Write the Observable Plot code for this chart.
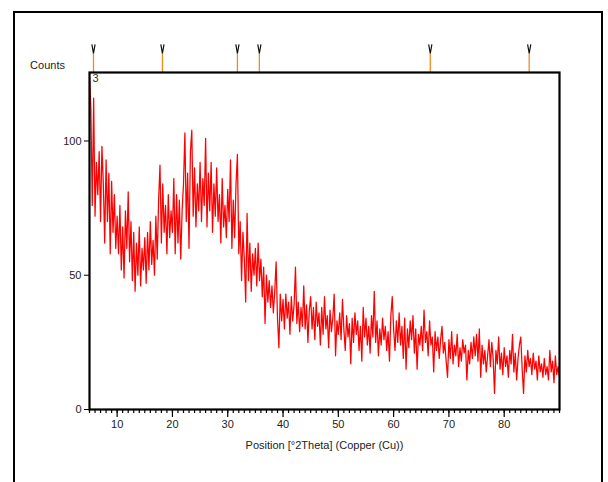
<!DOCTYPE html>
<html>
<head>
<meta charset="utf-8">
<script src="https://cdn.jsdelivr.net/npm/d3@7"></script>
<script src="https://cdn.jsdelivr.net/npm/@observablehq/plot@0.6"></script>
<style>
  html, body { margin: 0; padding: 0; background: #fff; }
  body { width: 608px; height: 482px; position: relative; overflow: hidden; font-family: "Liberation Sans", Arial, sans-serif; }
  #frame { position: absolute; left: 13px; top: 11px; width: 590px; height: 500px; border: 2px solid #000; box-sizing: border-box; }
  #chart { position: absolute; left: 0; top: 0; }
</style>
</head>
<body>
<div id="frame"></div>
<div id="chart"></div>
<script>
// 2Theta start and step of the scan (degrees)
const startAngle = 5;
const stepAngle = 0.25;
// Counts, one row per 5 degrees
const counts = [
  125,112,76,116,72,92,80,96,70,98,84,62,93,70,88,58,85,66,80,60,
  72,58,76,52,68,49,74,60,81,55,70,48,66,44,62,50,68,46,60,52,
  64,47,66,52,70,54,63,50,72,56,78,91,62,84,66,76,58,80,64,74,
  66,86,58,80,62,78,56,74,84,103,70,88,60,96,104,72,90,68,84,74,
  92,70,86,76,101,68,88,74,92,66,84,72,90,70,80,62,86,68,76,64,
  82,70,93,60,78,64,84,95,58,70,48,66,56,40,73,48,62,44,58,50,
  60,46,62,48,56,42,53,32,50,40,48,38,46,36,44,55,34,23,43,33,
  41,30,43,34,40,28,42,33,39,53,32,40,29,38,31,46,30,39,25,37,
  42,30,38,26,40,31,36,24,38,28,42,30,35,23,37,29,34,43,20,33,
  28,36,26,41,30,22,35,27,32,17,34,25,36,28,33,22,31,18,38,27,
  34,24,31,21,35,27,44,25,33,20,30,24,34,26,31,22,29,18,35,42,
  30,22,33,25,36,24,31,19,34,15,30,23,33,26,35,21,30,15,28,24,
  31,22,37,25,29,20,33,24,27,14,29,22,27,19,26,31,21,25,18,12,
  26,19,29,17,24,20,28,16,23,18,26,21,24,11,22,17,25,19,27,20,
  28,18,30,12,24,17,22,14,20,26,16,25,19,6,22,17,27,15,21,13,
  23,16,20,12,22,17,28,14,21,11,19,24,27,15,6,20,14,22,16,19,
  13,21,15,18,11,20,14,17,12,19,13,16,11,22,14,18,10,20,13,16,
  12
];
// Reference pattern line positions (degrees 2Theta)
const refPeaks = [5.72, 18.19, 31.75, 35.72, 66.63, 84.52];
const majorTicks = [10, 20, 30, 40, 50, 60, 70, 80];
const yTicks = [0, 50, 100];
const patternLabel = "3";

const data = counts.map((c, i) => ({angle: startAngle + i * stepAngle, count: c}));
const yTop = 125.5;
const markerTop = 132.5;   // orange stems end here (above frame)
const markerGlyph = 134.3;

// narrow "V" glyph used for the reference-line markers
const narrowV = {
  draw(context, size) {
    const h = 4.5, w = 1.6;
    context.moveTo(-w, -h);
    context.lineTo(0, h);
    context.lineTo(w, -h);
  }
};

const chart = Plot.plot({
  width: 608,
  height: 482,
  marginLeft: 89,
  marginRight: 49,
  marginTop: 72,
  marginBottom: 73,
  style: {fontFamily: "'Liberation Sans', Arial, sans-serif", fontSize: "11px", color: "#222", background: "transparent", overflow: "visible"},
  x: {domain: [5, 90]},
  y: {domain: [0, yTop]},
  marks: [
    Plot.line(data, {x: "angle", y: "count", stroke: "#ff0000", strokeWidth: 1.25, clip: true}),
    Plot.ruleX(refPeaks, {x: d => d, y1: yTop, y2: markerTop, stroke: "#f28a1e", strokeWidth: 1.3}),
    Plot.dot(refPeaks, {x: d => d, y: markerGlyph, symbol: narrowV, r: 4, stroke: "#111", fill: "none", strokeWidth: 1.2}),
    Plot.axisX({ticks: d3.range(5, 91, 1), tickSize: 4, text: null, label: null, stroke: "#000", strokeWidth: 1.2}),
    Plot.axisX({ticks: majorTicks, tickSize: 8, tickPadding: 3, tickFormat: d => String(d), label: null, stroke: "#000", strokeWidth: 1.2, fill: "#222"}),
    Plot.axisY({ticks: yTicks, tickSize: 5, tickPadding: 3, label: null, stroke: "#000", fill: "#222"}),
    Plot.frame({stroke: "#000", strokeWidth: 2.2}),
    Plot.text([patternLabel], {frameAnchor: "top-left", text: d => d, dx: 3, dy: 2, fontSize: 11, fill: "#333"}),
    Plot.text(["Counts"], {frameAnchor: "top-left", text: d => d, dx: -42, dy: -11, textAnchor: "middle", fontSize: 11, fill: "#222"}),
    Plot.text(["Position [°2Theta] (Copper (Cu))"], {frameAnchor: "bottom", text: d => d, dy: 39, fontSize: 11, fill: "#222"})
  ]
});
document.getElementById("chart").appendChild(chart);
</script>
</body>
</html>
